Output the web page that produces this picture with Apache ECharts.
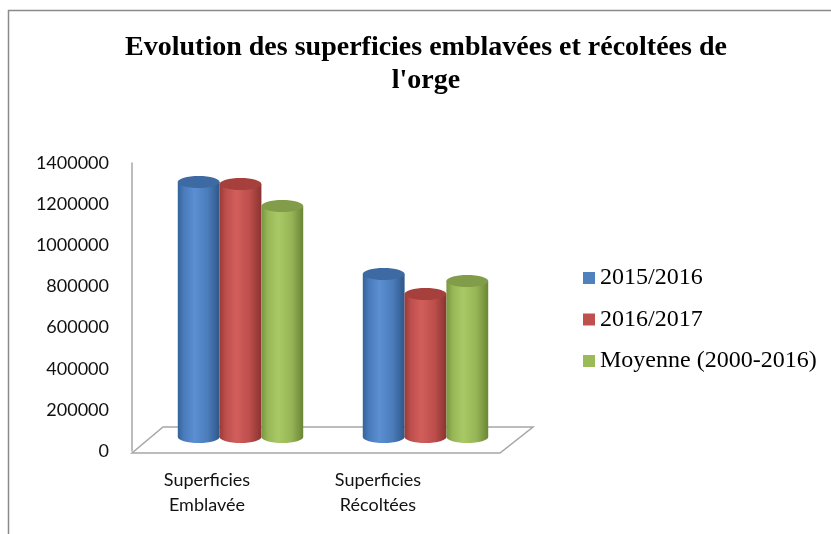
<!DOCTYPE html>
<html>
<head>
<meta charset="utf-8">
<script src="https://cdn.jsdelivr.net/npm/echarts@6/dist/echarts.min.js"></script>
<style>
  html, body { margin: 0; padding: 0; background: #fff; }
  #chart { width: 831px; height: 534px; }
</style>
</head>
<body>
<div id="chart"></div>
<script>
// data
const categories = ['Superficies\nEmblavée', 'Superficies\nRécoltées'];
const seriesNames = ['2015/2016', '2016/2017', 'Moyenne (2000-2016)'];
const s2015 = [1244000, 795000];
const s2016 = [1234000, 698000];
const sMoy = [1127000, 761000];
const yTicks = [0, 200000, 400000, 600000, 800000, 1000000, 1200000, 1400000];

const allValues = [s2015, s2016, sMoy];
const baseColors = ['#4f81bd', '#c0504d', '#9bbb59'];
const bodyStops = [
  ['#34639a', '#4a7cbc', '#5b8fd2', '#4a7cba', '#2f5788'],
  ['#9a3a37', '#bd4f4c', '#d25e5b', '#bc4e4b', '#8a3331'],
  ['#789640', '#97b656', '#a9c966', '#96b556', '#6a8535']
];
const topColors = ['#3d6aa2', '#a5403d', '#829d49'];

const chart = echarts.init(document.getElementById('chart'));

function bodyGradient(i) {
  const st = bodyStops[i];
  return new echarts.graphic.LinearGradient(0, 0, 1, 0, [
    { offset: 0, color: st[0] },
    { offset: 0.15, color: st[1] },
    { offset: 0.4, color: st[2] },
    { offset: 0.72, color: st[3] },
    { offset: 1, color: st[4] }
  ]);
}

function cylinderSeries(idx) {
  return {
    type: 'custom',
    name: seriesNames[idx],
    xAxisIndex: 1,
    yAxisIndex: 1,
    z: 3,
    itemStyle: { color: baseColors[idx] },
    data: allValues[idx].map((v, i) => [i, v]),
    encode: { x: 0, y: 1 },
    renderItem: function (params, api) {
      const cat = api.value(0);
      const val = api.value(1);
      const band = api.size([1, 0])[0];
      const barW = band * 0.226;
      const top = api.coord([cat, val]);
      const base = api.coord([cat, 0]);
      const cx = base[0] + (idx - 1) * barW;
      const rx = barW / 2;
      const ry = 6;
      return {
        type: 'group',
        children: [
          {
            type: 'ellipse',
            shape: { cx: cx, cy: base[1], rx: rx, ry: ry },
            style: { fill: bodyGradient(idx) }
          },
          {
            type: 'rect',
            shape: { x: cx - rx, y: top[1], width: barW, height: base[1] - top[1] },
            style: { fill: bodyGradient(idx) }
          },
          {
            type: 'ellipse',
            shape: { cx: cx, cy: top[1], rx: rx, ry: ry },
            style: { fill: topColors[idx] }
          }
        ]
      };
    }
  };
}

const option = {
  animation: false,
  backgroundColor: '#ffffff',
  title: {
    text: "Evolution des superficies emblavées et récoltées de\nl'orge",
    left: 426,
    top: 31,
    textAlign: 'center',
    padding: 0,
    textStyle: {
      fontFamily: 'Liberation Serif',
      fontWeight: 'bold',
      fontSize: 28,
      lineHeight: 33,
      color: '#000'
    }
  },
  legend: {
    orient: 'vertical',
    left: 583,
    top: 266,
    padding: 0,
    icon: 'rect',
    itemWidth: 12,
    itemHeight: 12,
    itemGap: 17.5,
    data: seriesNames,
    textStyle: {
      fontFamily: 'Liberation Serif',
      fontSize: 24,
      lineHeight: 24,
      color: '#000',
      padding: [0, 0, 0, 0]
    }
  },
  graphic: [
    {
      type: 'polyline',
      z: 0,
      silent: true,
      shape: { points: [[8.5, 534], [8.5, 10.5], [831, 10.5]] },
      style: { stroke: '#8a8a8a', lineWidth: 1.5, fill: null }
    },
    {
      type: 'polygon',
      z: 0,
      silent: true,
      shape: { points: [[132, 453], [163, 427], [533, 427], [500, 453]] },
      style: { stroke: '#a6a6a6', lineWidth: 1.5, fill: '#fff' }
    }
  ],
  grid: [
    { left: 132, top: 163, width: 368, bottom: 83 },
    { left: 148, top: 150, width: 370, bottom: 97 },
    { left: 121.5, top: 163, width: 342, bottom: 83 }
  ],
  xAxis: [
    { type: 'category', gridIndex: 0, data: categories, show: false },
    { type: 'category', gridIndex: 1, data: categories, show: false },
    {
      type: 'category',
      gridIndex: 2,
      data: categories,
      axisLine: { show: false },
      axisTick: { show: false },
      axisLabel: {
        margin: 16.5,
        fontFamily: 'Lato',
        fontSize: 18,
        lineHeight: 25,
        color: '#111',
        interval: 0
      }
    }
  ],
  yAxis: [
    {
      type: 'value',
      gridIndex: 0,
      min: yTicks[0],
      max: yTicks[yTicks.length - 1],
      interval: yTicks[1] - yTicks[0],
      axisLine: { show: true, lineStyle: { color: '#a6a6a6', width: 1.5 } },
      axisTick: { show: false },
      splitLine: { show: false },
      axisLabel: {
        margin: 23,
        fontFamily: 'Lato',
        fontSize: 18,
        color: '#111',
        formatter: function (v) { return String(v); }
      }
    },
    {
      type: 'value',
      gridIndex: 1,
      min: yTicks[0],
      max: yTicks[yTicks.length - 1],
      show: false,
      splitLine: { show: false }
    },
    { type: 'value', gridIndex: 2, show: false, splitLine: { show: false } }
  ],
  series: [cylinderSeries(0), cylinderSeries(1), cylinderSeries(2)]
};

chart.setOption(option);
</script>
</body>
</html>
